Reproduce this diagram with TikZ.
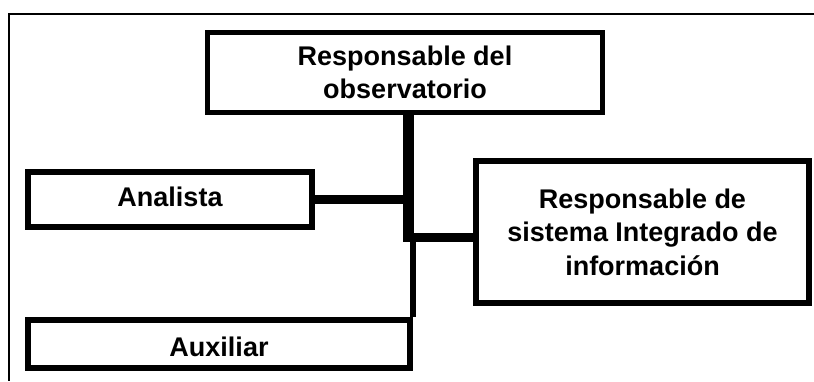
\documentclass[tikz,border=0pt]{standalone}
\usepackage{fontspec}
\setmainfont{Liberation Sans}

\begin{document}
\begin{tikzpicture}[x=1pt,y=-1pt,
   every node/.style={draw,line width=6pt,inner sep=0pt,align=center,
      font=\fontsize{27}{33.5}\selectfont\bfseries},
   link/.style={line width=9pt},
   trunk/.style={line width=11pt}]
\useasboundingbox (0,0) rectangle (814,381);
\draw[line width=2pt] (814,14) -- (9,14) -- (9,381);

\node[line width=5pt,minimum width=395pt,minimum height=80pt] (jefe) at (405,72.5)
   {Responsable del\\observatorio};
\node[minimum width=284pt,minimum height=55pt,text depth=5pt] (analista) at (170,199.5)
   {Analista};
\node[minimum width=333pt,minimum height=142pt] (sistema) at (642.5,232)
   {Responsable de\\sistema Integrado de\\información};
\node[minimum width=382pt,minimum height=48pt,text height=25.7pt] (auxiliar) at (219,344)
   {Auxiliar};

\coordinate (cruce) at (408.5,242);
\coordinate (rama) at (408.5,237.5);
\draw[trunk] (jefe.south -| cruce) -- (cruce);
\draw[link] (analista.east) -- (analista.east -| cruce);
\draw[link] (rama) -- (rama -| sistema.west);
\draw[line width=6pt] (auxiliar.north east) -- (auxiliar.north east |- cruce);
\end{tikzpicture}
\end{document}
